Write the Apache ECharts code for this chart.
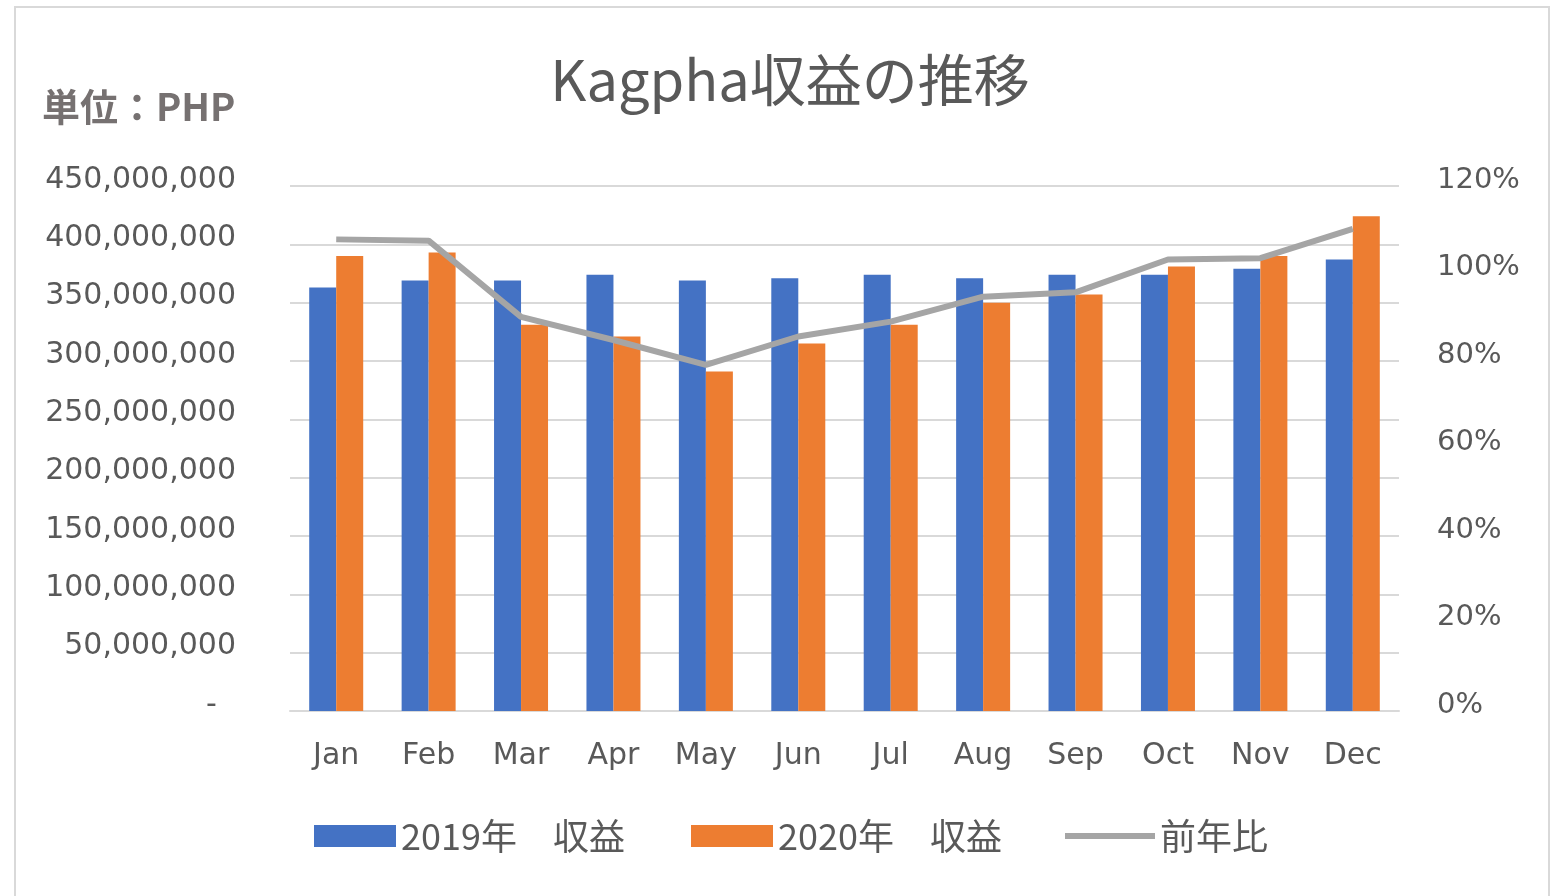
<!DOCTYPE html>
<html>
<head>
<meta charset="utf-8">
<script src="https://cdn.jsdelivr.net/npm/echarts@6/dist/echarts.min.js"></script>
<style>
  html, body { margin: 0; padding: 0; background: #fff; }
  #chart { width: 1560px; height: 896px; }
</style>
</head>
<body>
<div id="chart"></div>
<script>
// 月
var months = ['Jan', 'Feb', 'Mar', 'Apr', 'May', 'Jun', 'Jul', 'Aug', 'Sep', 'Oct', 'Nov', 'Dec'];
// 収益 (PHP)
var revenue2019 = [363000000, 369000000, 369000000, 374000000, 369000000, 371000000, 374000000, 371000000, 374000000, 374000000, 379000000, 387000000];
var revenue2020 = [390000000, 393000000, 331000000, 321000000, 291000000, 315000000, 331000000, 350000000, 357000000, 381000000, 390000000, 424000000];
// 前年比 (%)
var yoyRatio = [107.8, 107.5, 90.1, 84.8, 79.1, 85.6, 89.0, 94.7, 95.7, 103.2, 103.5, 110.2];

var name2019 = '2019年　収益';
var name2020 = '2020年　収益';
var nameRatio = '前年比';

var textColor = '#595959';
var gridColor = '#D9D9D9';

function formatYen(v) {
    if (v === 0) return '-  ';
    return v.toString().replace(/\B(?=(\d{3})+(?!\d))/g, ',');
}

var legendText = { color: textColor, fontSize: 36, fontFamily: 'Noto Sans CJK JP' };

var chart = echarts.init(document.getElementById('chart'));
chart.setOption({
    animation: false,
    title: {
        text: 'Kagpha収益の推移',
        left: 785,
        textAlign: 'center',
        top: 47,
        textStyle: { color: textColor, fontSize: 56, fontWeight: 'normal', fontFamily: 'Noto Sans CJK JP' }
    },
    graphic: [{
        type: 'rect',
        shape: { x: 15, y: 7, width: 1534, height: 900 },
        style: { fill: 'none', stroke: gridColor, lineWidth: 2 },
        z: -1
    }, {
        type: 'text',
        left: 42,
        top: 88,
        style: { text: '単位：PHP', fill: '#767171', fontSize: 38, fontWeight: 'bold', fontFamily: 'Noto Sans CJK JP' }
    }],
    legend: [{
        data: [{ name: name2019, icon: 'rect' }],
        left: 309, top: 813,
        itemWidth: 82, itemHeight: 22, itemGap: 0, textStyle: legendText
    }, {
        data: [{ name: name2020, icon: 'rect' }],
        left: 686, top: 813,
        itemWidth: 82, itemHeight: 22, itemGap: 0, textStyle: legendText
    }, {
        data: [{ name: nameRatio, icon: 'path://M0,0 L90,0 L90,6 L0,6 Z' }],
        left: 1060, top: 813,
        itemWidth: 90, itemHeight: 22, itemGap: 0, textStyle: legendText
    }],
    grid: { left: 290, right: 161, top: 186, bottom: 185 },
    xAxis: {
        type: 'category',
        data: months,
        axisTick: { show: false },
        axisLine: { lineStyle: { color: gridColor, width: 2 } },
        axisLabel: { color: textColor, fontSize: 30, fontFamily: 'DejaVu Sans', margin: 30 }
    },
    yAxis: [{
        type: 'value',
        min: 0,
        max: 450000000,
        interval: 50000000,
        axisLine: { show: false },
        axisTick: { show: false },
        splitLine: { lineStyle: { color: gridColor, width: 2 } },
        axisLabel: {
            color: textColor, fontSize: 30, fontFamily: 'DejaVu Sans', margin: 54,
            verticalAlign: 'bottom', lineHeight: 12,
            formatter: formatYen
        }
    }, {
        type: 'value',
        min: 0,
        max: 120,
        interval: 20,
        position: 'right',
        axisLine: { show: false },
        axisTick: { show: false },
        splitLine: { show: false },
        axisLabel: {
            color: textColor, fontSize: 29, fontFamily: 'DejaVu Sans', margin: 38,
            verticalAlign: 'bottom', lineHeight: 12,
            formatter: '{value}%'
        }
    }],
    series: [{
        name: name2019,
        type: 'bar',
        data: revenue2019,
        barWidth: 27,
        barGap: '0%',
        itemStyle: { color: '#4472C4' }
    }, {
        name: name2020,
        type: 'bar',
        data: revenue2020,
        barWidth: 27,
        barGap: '0%',
        itemStyle: { color: '#ED7D31' }
    }, {
        name: nameRatio,
        type: 'line',
        yAxisIndex: 1,
        data: yoyRatio,
        symbol: 'none',
        lineStyle: { color: '#A5A5A5', width: 6 },
        itemStyle: { color: '#A5A5A5' }
    }]
});
</script>
</body>
</html>
